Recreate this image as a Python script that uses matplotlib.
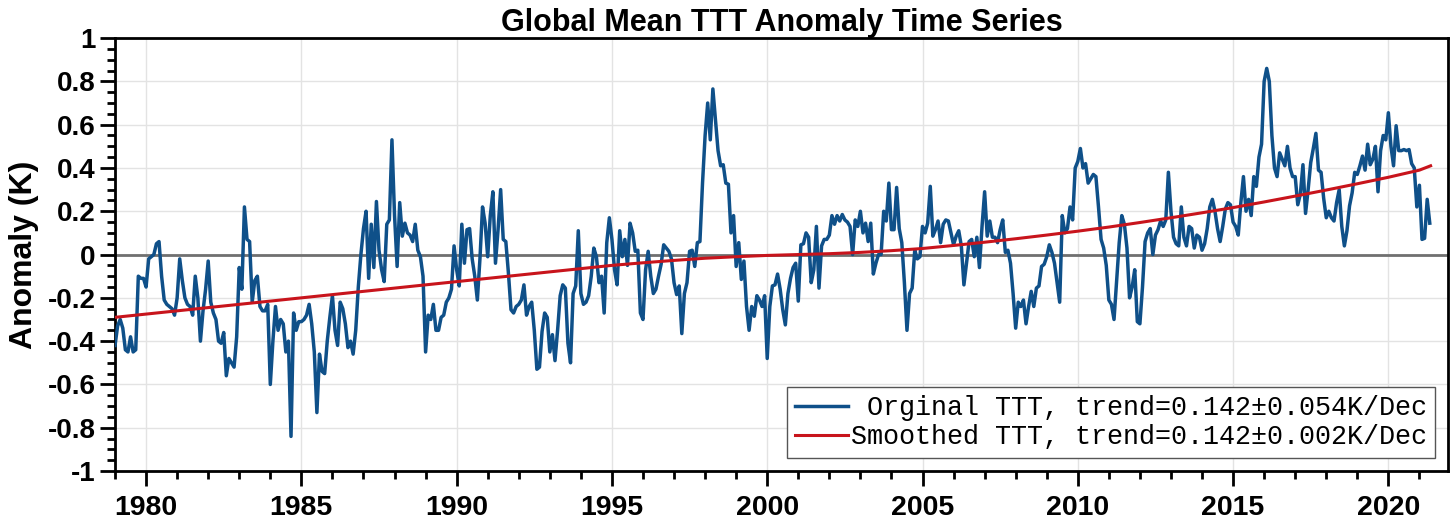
import numpy as np
import matplotlib
matplotlib.use('Agg')
import matplotlib.pyplot as plt
from matplotlib.ticker import MultipleLocator, FuncFormatter

plt.rcParams['axes.unicode_minus'] = False

'''月度TTT距平 (K), 1979年1月起, 按十年分段读图'''
ttt_1979_1988 = [
    -0.42, -0.33, -0.30, -0.34, -0.44, -0.45, -0.38, -0.45, -0.44, -0.10, -0.11, -0.11,
    -0.15, -0.02, -0.01, 0.00, 0.05, 0.06, -0.10, -0.21, -0.23, -0.24, -0.25, -0.28,
    -0.20, -0.02, -0.12, -0.20, -0.23, -0.24, -0.28, -0.10, -0.20, -0.40, -0.26, -0.16,
    -0.03, -0.22, -0.27, -0.30, -0.40, -0.41, -0.36, -0.56, -0.48, -0.50, -0.52, -0.38,
    -0.06, -0.16, 0.22, 0.07, 0.06, -0.22, -0.12, -0.10, -0.24, -0.26, -0.26, -0.23,
    -0.60, -0.40, -0.24, -0.35, -0.30, -0.32, -0.45, -0.40, -0.84, -0.27, -0.35, -0.31,
    -0.31, -0.30, -0.28, -0.23, -0.32, -0.45, -0.73, -0.46, -0.54, -0.55, -0.40, -0.29,
    -0.19, -0.35, -0.42, -0.22, -0.25, -0.32, -0.43, -0.40, -0.46, -0.35, -0.15, 0.00,
    0.12, 0.20, -0.11, 0.14, -0.06, 0.245, 0.02, -0.07, -0.125, 0.14, 0.16, 0.53,
    0.18, -0.055, 0.24, 0.085, 0.145, 0.10, 0.09, 0.06, 0.14, 0.02, -0.01, -0.10,
]
ttt_1989_1998 = [
    -0.45, -0.28, -0.30, -0.23, -0.35, -0.35, -0.29, -0.28, -0.22, -0.20, -0.16, 0.04,
    -0.07, -0.145, 0.14, -0.04, 0.115, 0.12, -0.02, -0.10, -0.21, -0.02, 0.22, 0.145,
    -0.01, 0.18, 0.29, -0.04, 0.115, 0.30, 0.07, 0.06, -0.085, -0.255, -0.27, -0.24,
    -0.23, -0.21, -0.14, -0.28, -0.24, -0.22, -0.35, -0.53, -0.52, -0.355, -0.27, -0.29,
    -0.45, -0.37, -0.49, -0.35, -0.19, -0.14, -0.155, -0.41, -0.50, -0.18, -0.145, 0.11,
    -0.18, -0.23, -0.22, -0.19, -0.10, 0.03, -0.01, -0.13, -0.10, -0.27, 0.055, 0.17,
    0.07, -0.07, -0.14, 0.11, -0.01, 0.07, -0.05, 0.145, 0.10, 0.015, 0.02, -0.27,
    -0.30, -0.07, 0.015, -0.10, -0.18, -0.16, -0.10, -0.045, 0.045, 0.03, 0.015, -0.02,
    -0.13, -0.185, -0.145, -0.365, -0.18, -0.13, 0.015, 0.02, -0.055, 0.055, 0.06, 0.33,
    0.55, 0.70, 0.53, 0.765, 0.62, 0.48, 0.41, 0.415, 0.33, 0.325, 0.10, 0.18,
]
ttt_1999_2008 = [
    -0.055, 0.055, -0.115, -0.03, -0.24, -0.35, -0.24, -0.285, -0.19, -0.21, -0.24, -0.19,
    -0.48, -0.24, -0.145, -0.14, -0.09, -0.16, -0.255, -0.325, -0.18, -0.11, -0.06, -0.04,
    -0.215, 0.045, 0.05, 0.10, 0.08, -0.13, -0.07, 0.13, -0.155, 0.04, 0.07, 0.07,
    0.09, 0.18, 0.14, 0.18, 0.155, 0.185, 0.16, 0.15, 0.13, 0.00, 0.16, 0.13,
    0.20, 0.10, 0.145, 0.06, 0.145, -0.09, -0.04, 0.00, 0.00, 0.20, 0.155, 0.33,
    0.115, 0.115, 0.31, 0.12, 0.055, -0.13, -0.35, -0.18, -0.155, 0.02, -0.02, -0.01,
    0.13, 0.10, 0.145, 0.315, 0.085, 0.115, 0.155, 0.055, 0.14, 0.16, 0.155, 0.10,
    0.045, 0.085, 0.11, 0.04, -0.14, -0.04, 0.06, 0.07, -0.01, 0.08, -0.06, 0.13,
    0.29, 0.085, 0.155, 0.08, 0.08, 0.055, 0.115, 0.16, 0.01, 0.02, -0.04, -0.18,
    -0.34, -0.22, -0.24, -0.21, -0.32, -0.24, -0.17, -0.24, -0.155, -0.145, -0.055, -0.045,
]
ttt_2009_2018 = [
    -0.01, 0.045, 0.01, -0.04, -0.13, -0.22, 0.18, 0.10, 0.12, 0.22, 0.16, 0.40,
    0.43, 0.49, 0.40, 0.42, 0.33, 0.35, 0.37, 0.36, 0.22, 0.07, 0.03, -0.05,
    -0.21, -0.23, -0.30, -0.12, 0.055, 0.18, 0.14, 0.03, -0.20, -0.15, -0.07, -0.31,
    -0.32, -0.15, 0.06, 0.10, 0.12, 0.00, 0.09, 0.115, 0.155, 0.13, 0.16, 0.38,
    0.20, 0.08, 0.05, 0.04, 0.22, 0.08, 0.04, 0.13, 0.12, 0.03, 0.09, 0.08,
    0.02, 0.05, 0.12, 0.22, 0.255, 0.20, 0.12, 0.06, 0.13, 0.21, 0.24, 0.23,
    0.15, 0.13, 0.09, 0.24, 0.36, 0.20, 0.255, 0.18, 0.36, 0.315, 0.45, 0.51,
    0.80, 0.86, 0.80, 0.55, 0.40, 0.36, 0.47, 0.44, 0.41, 0.50, 0.40, 0.36,
    0.36, 0.23, 0.28, 0.415, 0.19, 0.30, 0.425, 0.49, 0.56, 0.39, 0.38, 0.26,
    0.17, 0.20, 0.17, 0.155, 0.24, 0.30, 0.13, 0.04, 0.11, 0.225, 0.285, 0.38,
]
ttt_2019_2021 = [
    0.37, 0.41, 0.455, 0.39, 0.51, 0.415, 0.44, 0.50, 0.29, 0.48, 0.55, 0.53,
    0.655, 0.50, 0.41, 0.595, 0.48, 0.48, 0.485, 0.48, 0.485, 0.42, 0.40, 0.22,
    0.32, 0.07, 0.075, 0.255, 0.145,
]

'''平滑序列 (年节点)'''
smooth_years = [1979, 1980, 1981, 1982, 1983, 1984, 1985, 1986, 1987, 1988,
                1989, 1990, 1991, 1992, 1993, 1994, 1995, 1996, 1997, 1998,
                1999, 2000, 2001, 2002, 2003, 2004, 2005, 2006, 2007, 2008,
                2009, 2010, 2011, 2012, 2013, 2014, 2015, 2016, 2017, 2018,
                2019, 2020, 2021, 2021.36]
smooth_vals = [-0.29, -0.275, -0.26, -0.245, -0.23, -0.215, -0.20, -0.185, -0.17, -0.155,
               -0.14, -0.125, -0.11, -0.095, -0.08, -0.065, -0.05, -0.038, -0.027, -0.017,
               -0.01, -0.004, 0.0, 0.004, 0.01, 0.018, 0.028, 0.042, 0.057, 0.073,
               0.09, 0.108, 0.127, 0.148, 0.17, 0.193, 0.217, 0.243, 0.27, 0.298,
               0.327, 0.357, 0.39, 0.41]

label_orig = ' Orginal TTT, trend=0.142\u00b10.054K/Dec'
label_smooth = 'Smoothed TTT, trend=0.142\u00b10.002K/Dec'


def fmt_y(v, pos):
    return '%g' % round(v, 2)


if __name__ == '__main__':
    ttt = np.array(ttt_1979_1988 + ttt_1989_1998 + ttt_1999_2008 + ttt_2009_2018 + ttt_2019_2021)
    t = 1979 + np.arange(len(ttt)) / 12.0

    fig = plt.figure(figsize=(14.56, 5.29), dpi=100)
    ax = fig.add_axes([0.079, 0.1096, 0.9155, 0.8184])

    ax.axhline(0, color='#707070', lw=2.0, zorder=2)
    l1, = ax.plot(t, ttt, color='#0f5089', lw=2.5, zorder=3)
    l2, = ax.plot(smooth_years, smooth_vals, color='#c8141c', lw=2.2, zorder=4)

    ax.set_xlim(1979, 2021.92)
    ax.set_ylim(-1, 1)
    ax.xaxis.set_major_locator(MultipleLocator(5))
    ax.xaxis.set_minor_locator(MultipleLocator(1))
    ax.yaxis.set_major_locator(MultipleLocator(0.2))
    ax.yaxis.set_minor_locator(MultipleLocator(0.05))
    ax.yaxis.set_major_formatter(FuncFormatter(fmt_y))
    ax.grid(True, which='major', color='#e3e3e3', lw=1.0, zorder=0)
    ax.set_axisbelow(True)

    for s in ax.spines.values():
        s.set_linewidth(2.0)
    ax.tick_params(which='both', direction='out', width=2.0, top=False, right=False)
    ax.tick_params(which='major', length=11)
    ax.tick_params(which='minor', length=6)
    for lab in ax.get_xticklabels():
        lab.set_fontfamily('Liberation Sans')
        lab.set_fontweight('bold')
        lab.set_fontsize(20.5)
    for lab in ax.get_yticklabels():
        lab.set_fontfamily('Liberation Sans')
        lab.set_fontweight('bold')
        lab.set_fontsize(20)
    ax.tick_params(axis='x', pad=6)
    ax.tick_params(axis='y', pad=3)

    ax.set_title('Global Mean TTT Anomaly Time Series', fontfamily='Liberation Sans',
                 fontweight='bold', fontsize=22, pad=5)
    ax.set_ylabel('Anomaly (K)', fontfamily='Liberation Sans', fontweight='bold',
                  fontsize=23, labelpad=6)

    leg = ax.legend([l1, l2], [label_orig, label_smooth], loc='lower right',
                    prop={'family': 'Liberation Mono', 'size': 19.3},
                    handlelength=2.0, handletextpad=0.1, labelspacing=0.12,
                    borderpad=0.28, borderaxespad=0.5, fancybox=False,
                    framealpha=1.0, edgecolor='#555555')
    leg.get_frame().set_linewidth(1.0)

    fig.savefig('out.png', dpi=100)
